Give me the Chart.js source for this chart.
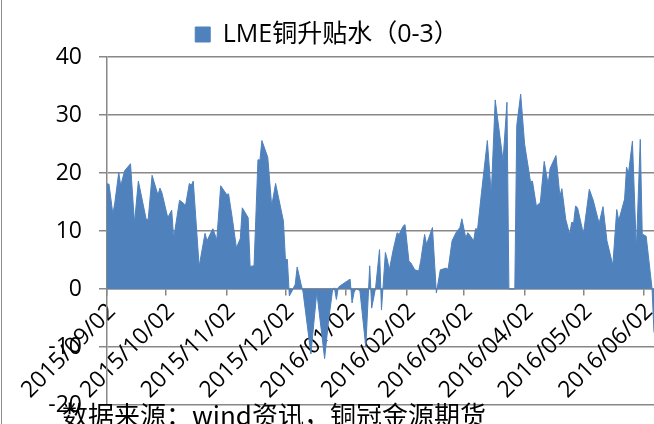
<!DOCTYPE html>
<html>
<head>
<meta charset="utf-8">
<script src="https://cdn.jsdelivr.net/npm/chart.js@4.4.1/dist/chart.umd.min.js"></script>
<style>
  html, body { margin: 0; padding: 0; background: #fff; }
  #wrap { position: relative; width: 654px; height: 424px; overflow: hidden; }
  #edge { position: absolute; left: 1px; top: 0; width: 1px; height: 424px; background: #8c8c8c; }
  #source { position: absolute; left: 62px; top: 401px; font: 26px/1 "Noto Sans CJK SC", sans-serif; color: #000; white-space: nowrap; }
</style>
</head>
<body>
<div id="wrap">
  <canvas id="chart" width="654" height="424"></canvas>
  <div id="edge"></div>
  <div id="source">数据来源：wind资讯，铜冠金源期货</div>
</div>
<script>
const seriesName = "LME铜升贴水（0-3）";

const dates = [
  "2015/09/02","2015/09/03","2015/09/05","2015/09/06","2015/09/08","2015/09/09","2015/09/11","2015/09/14","2015/09/16","2015/09/18",
  "2015/09/22","2015/09/23","2015/09/25","2015/09/28","2015/09/29","2015/09/30","2015/10/03","2015/10/05","2015/10/06","2015/10/09",
  "2015/10/11","2015/10/12","2015/10/14","2015/10/15","2015/10/16","2015/10/19","2015/10/22","2015/10/23","2015/10/26","2015/10/28",
  "2015/10/30","2015/11/02","2015/11/03","2015/11/05","2015/11/07","2015/11/09","2015/11/10","2015/11/13","2015/11/14","2015/11/16",
  "2015/11/18","2015/11/19","2015/11/20","2015/11/23","2015/11/25","2015/11/27","2015/12/01","2015/12/02","2015/12/03","2015/12/04",
  "2015/12/05","2015/12/07","2015/12/08","2015/12/10","2015/12/11","2015/12/15","2015/12/18","2015/12/22","2015/12/24","2015/12/26",
  "2015/12/27","2015/12/28","2015/12/29","2015/12/31","2016/01/04","2016/01/05","2016/01/06","2016/01/07","2016/01/09","2016/01/12",
  "2016/01/14","2016/01/15","2016/01/17","2016/01/19","2016/01/20","2016/01/22","2016/01/23","2016/01/24","2016/01/26","2016/01/28",
  "2016/01/29","2016/01/31","2016/02/01","2016/02/03","2016/02/04","2016/02/06","2016/02/08","2016/02/09","2016/02/11","2016/02/12",
  "2016/02/15","2016/02/17","2016/02/19","2016/02/22","2016/02/23","2016/02/25","2016/02/27","2016/02/29","2016/03/01","2016/03/03",
  "2016/03/04","2016/03/05","2016/03/07","2016/03/08","2016/03/09","2016/03/11","2016/03/14","2016/03/16","2016/03/18","2016/03/22",
  "2016/03/24","2016/03/25","2016/03/28","2016/03/29","2016/03/31","2016/04/02","2016/04/05","2016/04/06","2016/04/08","2016/04/10",
  "2016/04/12","2016/04/14","2016/04/15","2016/04/18","2016/04/20","2016/04/21","2016/04/23","2016/04/25","2016/04/26","2016/04/27",
  "2016/04/28","2016/04/29","2016/05/02","2016/05/05","2016/05/07","2016/05/10","2016/05/12","2016/05/14","2016/05/17","2016/05/19",
  "2016/05/20","2016/05/23","2016/05/24","2016/05/25","2016/05/27","2016/05/29","2016/05/31","2016/06/01","2016/06/03","2016/06/06",
  "2016/06/07"
];

const values = [
  18.1, 18.1, 12.9, 14.9, 20.1, 17.8, 20.4, 21.6, 11.4, 18.6,
  12.0, 12.0, 19.6, 16.2, 17.4, 16.6, 12.3, 13.6, 8.7, 15.3,
  14.8, 14.3, 18.2, 17.9, 18.6, 3.9, 9.6, 8.3, 10.4, 8.5,
  17.8, 16.3, 16.4, 12.0, 7.1, 8.7, 14.0, 12.3, 3.9, 4.0,
  22.3, 22.2, 25.6, 22.7, 14.3, 18.2, 11.7, 5.1, 5.1, -1.2,
  -0.6, 0.8, 3.8, 0.8, -0.5, -11.2, -0.5, -12.0, -5.5, -0.3,
  0.2, -1.8, 0.3, 0.8, 1.7, -2.4, -0.6, 0.1, -0.3, -10.0,
  4.0, -3.3, 0.2, 6.8, -3.6, 6.3, 5.0, 3.3, 6.8, 9.7,
  9.4, 10.8, 11.1, 4.8, 4.5, 3.3, 3.1, 4.8, 9.4, 7.7,
  10.6, -0.7, 3.3, 3.6, 3.4, 8.3, 9.7, 10.6, 12.1, 8.8,
  9.7, 9.3, 8.3, 10.4, 10.3, 16.6, 25.6, 16.3, 32.6, 22.1,
  32.2, 0, 0, 28.2, 33.6, 25.0, 18.5, 18.6, 14.3, 14.9,
  22.0, 18.0, 20.8, 23.0, 16.0, 17.3, 12.0, 9.4, 11.5, 11.4,
  14.3, 14.0, 9.5, 17.2, 15.3, 11.3, 14.2, 8.3, 4.1, 13.7,
  11.8, 15.5, 21.0, 20.0, 25.5, 6.8, 25.8, 9.5, 9.1, 0.1,
  -7.5
];

const tickDates = [
  "2015/09/02", "2015/10/02", "2015/11/02", "2015/12/02", "2016/01/02",
  "2016/02/02", "2016/03/02", "2016/04/02", "2016/05/02", "2016/06/02"
];

const lastDate = "2016/06/07";
const yMin = -20;
const yMax = 40;
const yStep = 10;

// day count from the first date, used as the x value
const DAY = 86400000;
const origin = Date.UTC(2015, 8, 2);
function dayIndex(s) {
  const [y, m, d] = s.split("/").map(Number);
  return Math.round((Date.UTC(y, m - 1, d) - origin) / DAY);
}

const tickLabels = {};
tickDates.forEach(t => { tickLabels[dayIndex(t)] = t; });

const blue = "#4F81BD";
const gridGrey = "#888888";
const tickFont = { family: "'Open Sans', 'Noto Sans CJK SC', sans-serif", size: 23 };

new Chart(document.getElementById("chart"), {
  type: "line",
  data: {
    datasets: [{
      label: seriesName,
      data: dates.map((d, i) => ({ x: dayIndex(d), y: values[i] })),
      borderColor: blue,
      backgroundColor: blue,
      borderWidth: 1,
      pointRadius: 0,
      tension: 0,
      fill: "origin",
    }],
  },
  options: {
    responsive: false,
    animation: false,
    devicePixelRatio: 1,
    layout: { padding: 0 },
    plugins: {
      legend: {
        position: "top",
        labels: {
          font: { family: "'Open Sans', 'Noto Sans CJK SC', sans-serif", size: 25 },
          color: "#000",
          boxWidth: 15,
          boxHeight: 15,
          padding: 18,
        },
      },
      tooltip: { enabled: false },
    },
    scales: {
      x: {
        type: "linear",
        position: { y: 0 },
        min: 0,
        max: dayIndex(lastDate),
        z: 1,
        grid: { drawOnChartArea: false, tickLength: 6, color: gridGrey, lineWidth: 1.5 },
        border: { color: gridGrey, width: 1.5 },
        ticks: {
          autoSkip: false,
          minRotation: 45,
          maxRotation: 45,
          padding: 3,
          labelOffset: 5,
          font: tickFont,
          color: "#000",
          callback: v => tickLabels[v] ?? "",
        },
        afterBuildTicks: scale => {
          scale.ticks = tickDates.map(t => ({ value: dayIndex(t) }));
        },
        afterFit: scale => {
          scale.paddingLeft = 0;
          scale.paddingRight = 0;
        },
      },
      y: {
        min: yMin,
        max: yMax,
        ticks: { stepSize: yStep, padding: 17, font: tickFont, color: "#000" },
        grid: { color: gridGrey, lineWidth: 1.5, tickLength: 8 },
        border: { color: gridGrey, width: 1.5 },
        afterFit: scale => {
          scale.width = 107;
          scale.paddingTop = 57;
          scale.paddingBottom = 19;
        },
      },
    },
  },
});
</script>
</body>
</html>
